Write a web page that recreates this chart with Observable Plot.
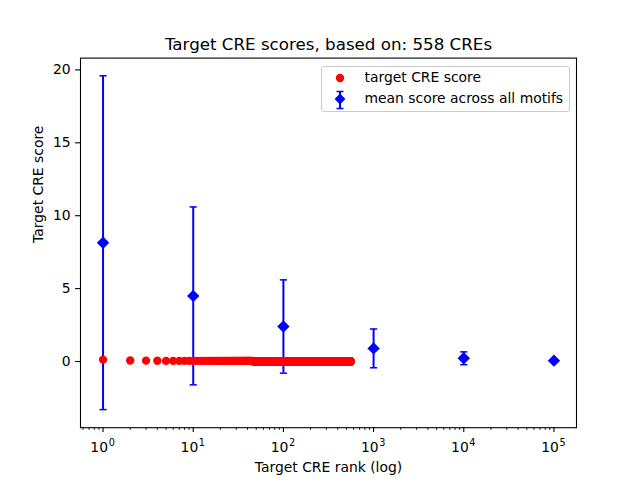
<!DOCTYPE html>
<html>
<head>
<meta charset="utf-8">
<script src="https://cdn.jsdelivr.net/npm/d3@7"></script>
<script src="https://cdn.jsdelivr.net/npm/@observablehq/plot@0.6"></script>
<style>
  body { margin: 0; background: #fff; }
  #fig { position: relative; width: 640px; height: 480px; font-family: "DejaVu Sans", sans-serif; }
  #legend { position: absolute; left: 320.5px; top: 65.5px; width: 247px; height: 44px;
    border: 1px solid #cccccc; border-radius: 3px; background: rgba(255,255,255,0.8);
    font-size: 13.9px; color: #000; }
  .row { position: absolute; left: 0; height: 20px; width: 100%; }
  .row svg { position: absolute; left: 8px; top: 0; }
  .row span { position: absolute; left: 43px; top: 1px; white-space: nowrap; }
</style>
</head>
<body>
<div id="fig"></div>
<script>
// ---- data ----
const title = "Target CRE scores, based on: 558 CREs";
const xLabel = "Target CRE rank (log)";
const yLabel = "Target CRE score";
const legendLabels = ["target CRE score", "mean score across all motifs"];

// target CRE score per rank, given as runs of [count, value] (558 CREs total)
const scoreRunCounts = [1, 1, 1, 1, 41, 513];
const scoreRunValues = [0.13, 0.07, 0.06, 0.05, 0.04, 0.0];

// mean score across all motifs at given ranks, with standard deviation
const meanRanks = [1, 10, 100, 1000, 10000, 100000];
const meanScores = [8.15, 4.5, 2.4, 0.9, 0.22, 0.06];
const meanErr = [11.45, 6.1, 3.2, 1.33, 0.44, 0.03];

const xTicks = [1, 10, 100, 1000, 10000, 100000];
const xTickBase = "10";
const xTickExponents = ["0", "1", "2", "3", "4", "5"];
const yTicks = [0, 5, 10, 15, 20];

// ---- build tables ----
const scores = [];
let rank = 1;
scoreRunCounts.forEach((c, i) => {
  for (let k = 0; k < c; k++) scores.push({rank: rank++, score: scoreRunValues[i]});
});
const means = meanRanks.map((r, i) => ({rank: r, mean: meanScores[i], lo: meanScores[i] - meanErr[i], hi: meanScores[i] + meanErr[i]}));
const caps = means.flatMap(d => [{rank: d.rank, y: d.lo}, {rank: d.rank, y: d.hi}]);
const tickRows = xTicks.map((t, i) => ({t, exp: xTickExponents[i]}));

const xDomain = [Math.pow(10, -0.25), Math.pow(10, 5.25)];
const minorTicks = d3.scaleLog().domain(xDomain).ticks().filter(t => !xTicks.includes(t));

const capSymbol = {
  draw(ctx, size) {
    const w = Math.sqrt(size / Math.PI);
    ctx.moveTo(-w, 0);
    ctx.lineTo(w, 0);
  }
};

const chart = Plot.plot({
  width: 640,
  height: 480,
  marginLeft: 80,
  marginRight: 64,
  marginTop: 57.6,
  marginBottom: 52.8,
  style: {fontFamily: "DejaVu Sans, sans-serif", fontSize: "13.9px", background: "#fff", color: "#000"},
  x: {type: "log", domain: xDomain},
  y: {domain: [-4.54, 20.81]},
  marks: [
    Plot.axisY({ticks: yTicks, tickSize: 4.9, tickPadding: 4.9, label: null, strokeWidth: 1.1, strokeOpacity: 1, fontSize: 13.9}),
    Plot.axisX({ticks: xTicks, tickFormat: () => "", tickSize: 4.9, label: null, strokeWidth: 1.1, strokeOpacity: 1}),
    Plot.axisX({ticks: minorTicks, tickFormat: () => "", tickSize: 2.8, label: null, strokeWidth: 0.8, strokeOpacity: 1}),
    Plot.text(tickRows, {x: "t", frameAnchor: "bottom", text: () => xTickBase, textAnchor: "end", dx: 5, dy: 20.3, lineAnchor: "middle", fontSize: 13.9, fill: "#000"}),
    Plot.text(tickRows, {x: "t", frameAnchor: "bottom", text: "exp", textAnchor: "start", dx: 5.6, dy: 15.6, lineAnchor: "middle", fontSize: 9.7, fill: "#000"}),
    Plot.ruleX(means, {x: "rank", y1: "lo", y2: "hi", stroke: "#0000ff", strokeWidth: 2}),
    Plot.dot(caps, {x: "rank", y: "y", symbol: capSymbol, r: 3.6, stroke: "#0000ff", strokeWidth: 1.5, fill: "none"}),
    Plot.dot(means, {x: "rank", y: "mean", symbol: "diamond2", r: 5.6, fill: "#0000ff", stroke: "none"}),
    Plot.dot(scores, {x: "rank", y: "score", r: 4.17, fill: "#ff0000", stroke: "none"}),
    Plot.frame({stroke: "#000", strokeWidth: 1.1}),
    Plot.text([title], {frameAnchor: "top", dy: -8.3, lineAnchor: "bottom", fontSize: 16.7, fill: "#000"}),
    Plot.text([xLabel], {frameAnchor: "bottom", dy: 34, lineAnchor: "top", fontSize: 13.9, fill: "#000"}),
    Plot.text([yLabel], {frameAnchor: "left", dx: -42, rotate: -90, lineAnchor: "middle", fontSize: 13.9, fill: "#000"})
  ]
});

const fig = document.getElementById("fig");
fig.appendChild(chart);

// legend
const legend = document.createElement("div");
legend.id = "legend";
legend.innerHTML = `
  <div class="row" style="top:1px">
    <svg width="20" height="20"><circle cx="10" cy="10" r="4.17" fill="#ff0000"/></svg>
    <span>${legendLabels[0]}</span>
  </div>
  <div class="row" style="top:22px">
    <svg width="20" height="22"><line x1="10" y1="2" x2="10" y2="20" stroke="#0000ff" stroke-width="2"/>
      <line x1="6.5" y1="2.5" x2="13.5" y2="2.5" stroke="#0000ff" stroke-width="1.5"/>
      <line x1="6.5" y1="19.5" x2="13.5" y2="19.5" stroke="#0000ff" stroke-width="1.5"/>
      <path d="M10 4.6 L15.4 10 L10 15.4 L4.6 10 Z" fill="#0000ff"/></svg>
    <span>${legendLabels[1]}</span>
  </div>`;
fig.appendChild(legend);
</script>
</body>
</html>
